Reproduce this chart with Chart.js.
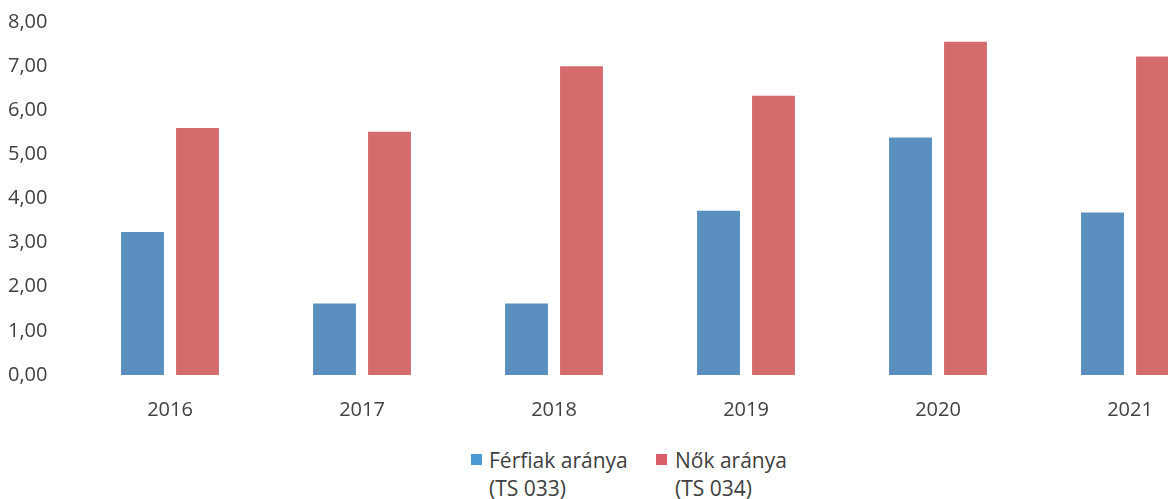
<!DOCTYPE html>
<html>
<head>
<meta charset="utf-8">
<script src="https://cdn.jsdelivr.net/npm/chart.js@4/dist/chart.umd.min.js"></script>
<style>
  html, body { margin: 0; padding: 0; background: #fff; overflow: hidden; }
  #wrap { position: relative; width: 1168px; height: 499px; overflow: hidden; }
  #box { position: absolute; left: 0; top: 0; width: 1240px; height: 420px; }
  #legend { position: absolute; top: 446px; left: 0; width: 1168px; font-family: "Open Sans", sans-serif;
            font-size: 21px; line-height: 28px; color: #404040; }
  .item { position: absolute; top: 0; }
  .sw { position: absolute; left: 0; top: 8px; width: 11px; height: 11px; }
  .txt { position: absolute; top: 0; white-space: nowrap; }
</style>
</head>
<body>
<div id="wrap">
  <div id="box"><canvas id="barchart"></canvas></div>
  <div id="legend"></div>
</div>
<script>
const years = ['2016', '2017', '2018', '2019', '2020', '2021'];
const ferfiak = [3.24, 1.62, 1.62, 3.72, 5.38, 3.68];
const nok = [5.60, 5.51, 7.00, 6.33, 7.55, 7.22];
const seriesNames = [['Férfiak aránya', '(TS 033)'], ['Nők aránya', '(TS 034)']];
const barColors = ['#5a8fc0', '#d46c6e'];
const legendColors = ['#4a9ad6', '#d95f6a'];

const ctxBar = document.getElementById('barchart').getContext('2d');

const barchart = new Chart(ctxBar, {
    type: 'bar',
    data: {
        labels: years,
        datasets: [{
            label: seriesNames[0].join(' '),
            data: ferfiak,
            backgroundColor: barColors[0],
            categoryPercentage: 0.573,
            barPercentage: 0.78
        }, {
            label: seriesNames[1].join(' '),
            data: nok,
            backgroundColor: barColors[1],
            categoryPercentage: 0.573,
            barPercentage: 0.78
        }]
    },
    options: {
        responsive: true,
        maintainAspectRatio: false,
        animation: false,
        layout: { padding: { left: 8, top: 22, right: 14, bottom: 0 } },
        plugins: {
            legend: { display: false },
            tooltip: { enabled: false }
        },
        scales: {
            x: {
                grid: { display: false },
                border: { display: false },
                ticks: {
                    color: '#404040',
                    padding: 15,
                    font: { family: 'Open Sans', size: 20 }
                },
                afterFit: (scale) => { scale.height = 45; }
            },
            y: {
                min: 0,
                max: 8,
                grid: { display: false },
                border: { display: false },
                ticks: {
                    stepSize: 1,
                    color: '#404040',
                    crossAlign: 'far',
                    font: { family: 'Open Sans', size: 20 },
                    callback: (v) => v.toFixed(2).replace('.', ',')
                },
                afterFit: (scale) => { scale.width = 66; }
            }
        }
    }
});

// two-line legend below the chart
const legend = document.getElementById('legend');
const swatchX = [471, 656];
const textX = [489, 675];
seriesNames.forEach((name, i) => {
    const item = document.createElement('div');
    item.className = 'item';
    item.style.left = swatchX[i] + 'px';
    item.innerHTML = '<span class="sw" style="background:' + legendColors[i] + '"></span>' +
        '<span class="txt" style="left:' + (textX[i] - swatchX[i]) + 'px">' + name[0] + '<br>' + name[1] + '</span>';
    legend.appendChild(item);
});
</script>
</body>
</html>
